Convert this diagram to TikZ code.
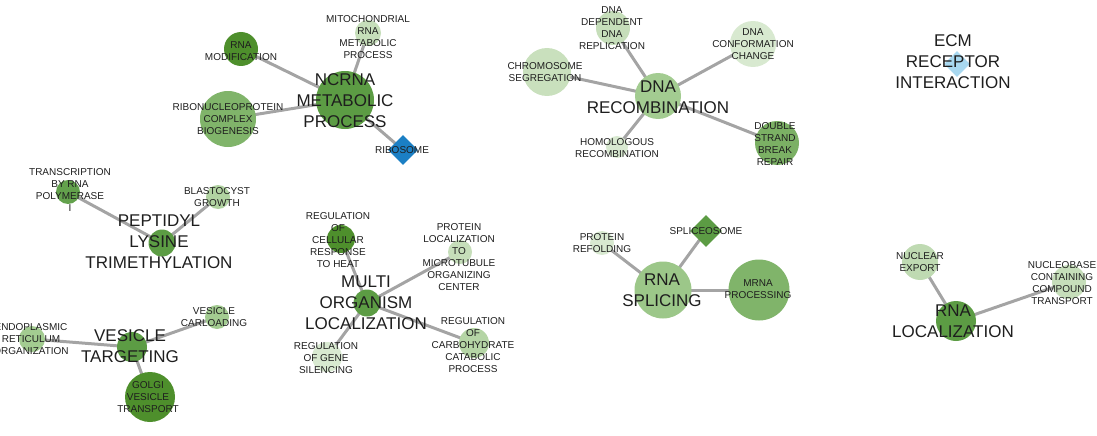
\documentclass[tikz,border=0pt]{standalone}
\usepackage{fontspec}
\setmainfont{Liberation Sans}
\usetikzlibrary{shapes.geometric,backgrounds}
\definecolor{gA}{HTML}{4E8F2C}
\definecolor{gB}{HTML}{5C9C44}
\definecolor{gC}{HTML}{80B46A}
\definecolor{gD}{HTML}{A3CC91}
\definecolor{gE}{HTML}{C6DEBA}
\definecolor{gF}{HTML}{D8E9D0}
\definecolor{bA}{HTML}{1B7FC4}
\definecolor{bB}{HTML}{A8D8F0}
\definecolor{edgecol}{HTML}{A4A4A4}
\definecolor{txt}{HTML}{1E1E1E}
\tikzset{
  x=1pt, y=-1pt,
  gc/.style={circle, draw=none, inner sep=0pt, minimum size=#1},
  gd/.style={diamond, draw=none, inner sep=0pt, minimum size=#1},
  sl/.style={font=\fontsize{10}{12}\selectfont, align=center, inner sep=0pt, text=txt},
  bl/.style={font=\fontsize{17}{21}\selectfont, align=center, inner sep=0pt, text=txt},
  edge/.style={draw=edgecol, line width=3pt}
}
\begin{document}
\begin{tikzpicture}
\useasboundingbox (0,0) rectangle (1097,436);
% ---- cluster NCRNA
\node[gc=58, fill=gB] (ncrna) at (345,100) {};
\node[gc=34, fill=gA] (rnamod) at (241,49) {};
\node[gc=26, fill=gE] (mito) at (368,33) {};
\node[gc=56, fill=gC] (ribonuc) at (228,119) {};
\node[gd=30, fill=bA] (ribosome) at (403,150) {};
% ---- cluster DNA
\node[gc=46, fill=gD] (dnarec) at (658,96) {};
\node[gc=34, fill=gE] (dnadep) at (613,28) {};
\node[gc=46, fill=gF] (dnaconf) at (753,44) {};
\node[gc=48, fill=gE!85!gF] (chrom) at (547,72) {};
\node[gc=22, fill=gF] (homol) at (617,147) {};
\node[gc=44, fill=gC!85!gB] (dsb) at (777,143) {};
% ---- ECM
\node[gd=26, fill=bB] (ecm) at (957,64) {};
% ---- peptidyl
\node[gc=27, fill=gB] (pept) at (162,243) {};
\node[gc=24, fill=gB!80!gC] (transc) at (68,192) {};
\node[gc=24, fill=gD!60!gE] (blasto) at (218,197) {};
% ---- vesicle
\node[gc=30, fill=gB] (vest) at (132,347) {};
\node[gc=26, fill=gD] (endo) at (32,339) {};
\node[gc=24, fill=gD] (vescar) at (217,317) {};
\node[gc=50, fill=gA] (golgi) at (150,397) {};
% ---- multi organism
\node[gc=27, fill=gB] (multi) at (367,303) {};
\node[gc=28, fill=gA] (regheat) at (341,239) {};
\node[gc=24, fill=gE] (protloc) at (460,252) {};
\node[gc=30, fill=gD!50!gE] (regcarb) at (474,343) {};
\node[gc=30, fill=gF] (reggene) at (327,357) {};
% ---- RNA splicing
\node[gc=57, fill=gD!80!gC] (rnaspl) at (663,290) {};
\node[gc=24, fill=gF] (protref) at (602,243) {};
\node[gd=32, fill=gB] (splice) at (706,231) {};
\node[gc=61, fill=gC] (mrna) at (759,290) {};
% ---- RNA localization
\node[gc=40, fill=gB] (rnaloc) at (956,321) {};
\node[gc=36, fill=gE!80!gD] (nucexp) at (920,262) {};
\node[gc=34, fill=gE] (nucleo) at (1069,282) {};
% ---- edges
\begin{scope}[on background layer]
\draw[edge] (ncrna.center) -- (rnamod.center);
\draw[edge] (ncrna.center) -- (mito.center);
\draw[edge] (ncrna.center) -- (ribonuc.center);
\draw[edge] (ncrna.center) -- (ribosome.center);
\draw[edge] (dnarec.center) -- (dnadep.center);
\draw[edge] (dnarec.center) -- (dnaconf.center);
\draw[edge] (dnarec.center) -- (chrom.center);
\draw[edge] (dnarec.center) -- (homol.center);
\draw[edge] (dnarec.center) -- (dsb.center);
\draw[edge] (pept.center) -- (transc.center);
\draw[edge] (pept.center) -- (blasto.center);
\draw[edge] (vest.center) -- (endo.center);
\draw[edge] (vest.center) -- (vescar.center);
\draw[edge] (vest.center) -- (golgi.center);
\draw[edge] (multi.center) -- (regheat.center);
\draw[edge] (multi.center) -- (protloc.center);
\draw[edge] (multi.center) -- (regcarb.center);
\draw[edge] (multi.center) -- (reggene.center);
\draw[edge] (rnaspl.center) -- (protref.center);
\draw[edge] (rnaspl.center) -- (splice.center);
\draw[edge] (rnaspl.center) -- (mrna.center);
\draw[edge] (rnaloc.center) -- (nucexp.center);
\draw[edge] (rnaloc.center) -- (nucleo.center);
\end{scope}
% ---- labels
\node[bl] (ncrnaT) at (345,101) {NCRNA\\METABOLIC\\PROCESS};
\node[sl] (rnamodT) at (241,51) {RNA\\MODIFICATION};
\node[sl] (mitoT) at (368,37) {MITOCHONDRIAL\\RNA\\METABOLIC\\PROCESS};
\node[sl] (ribonucT) at (228,119) {RIBONUCLEOPROTEIN\\COMPLEX\\BIOGENESIS};
\node[sl] (ribosomeT) at (402,150) {RIBOSOME};
\node[bl] (dnarecT) at (658,97) {DNA\\RECOMBINATION};
\node[sl] (dnadepT) at (612,28) {DNA\\DEPENDENT\\DNA\\REPLICATION};
\node[sl] (dnaconfT) at (753,44) {DNA\\CONFORMATION\\CHANGE};
\node[sl] (chromT) at (545,72) {CHROMOSOME\\SEGREGATION};
\node[sl] (homolT) at (617,148) {HOMOLOGOUS\\RECOMBINATION};
\node[sl] (dsbT) at (775,144) {DOUBLE\\STRAND\\BREAK\\REPAIR};
\node[bl] (ecmT) at (953,62) {ECM\\RECEPTOR\\INTERACTION};
\node[bl] (peptT) at (159,242) {PEPTIDYL\\LYSINE\\TRIMETHYLATION};
\node[sl] (transcT) at (70,190) {TRANSCRIPTION\\BY RNA\\POLYMERASE\\I};
\node[sl] (blastoT) at (217,197) {BLASTOCYST\\GROWTH};
\node[bl] (vestT) at (130,346) {VESICLE\\TARGETING};
\node[sl] (endoT) at (31,339) {ENDOPLASMIC\\RETICULUM\\ORGANIZATION};
\node[sl] (vescarT) at (214,317) {VESICLE\\CARLOADING};
\node[sl] (golgiT) at (148,397) {GOLGI\\VESICLE\\TRANSPORT};
\node[bl] (multiT) at (366,303) {MULTI\\ORGANISM\\LOCALIZATION};
\node[sl] (regheatT) at (338,240) {REGULATION\\OF\\CELLULAR\\RESPONSE\\TO HEAT};
\node[sl] (protlocT) at (459,257) {PROTEIN\\LOCALIZATION\\TO\\MICROTUBULE\\ORGANIZING\\CENTER};
\node[sl] (regcarbT) at (473,345) {REGULATION\\OF\\CARBOHYDRATE\\CATABOLIC\\PROCESS};
\node[sl] (reggeneT) at (326,358) {REGULATION\\OF GENE\\SILENCING};
\node[bl] (rnasplT) at (662,290) {RNA\\SPLICING};
\node[sl] (protrefT) at (602,243) {PROTEIN\\REFOLDING};
\node[sl] (spliceT) at (706,231) {SPLICEOSOME};
\node[sl] (mrnaT) at (758,289) {MRNA\\PROCESSING};
\node[bl] (rnalocT) at (953,321) {RNA\\LOCALIZATION};
\node[sl] (nucexpT) at (920,262) {NUCLEAR\\EXPORT};
\node[sl] (nucleoT) at (1062,283) {NUCLEOBASE\\CONTAINING\\COMPOUND\\TRANSPORT};
\end{tikzpicture}
\end{document}
